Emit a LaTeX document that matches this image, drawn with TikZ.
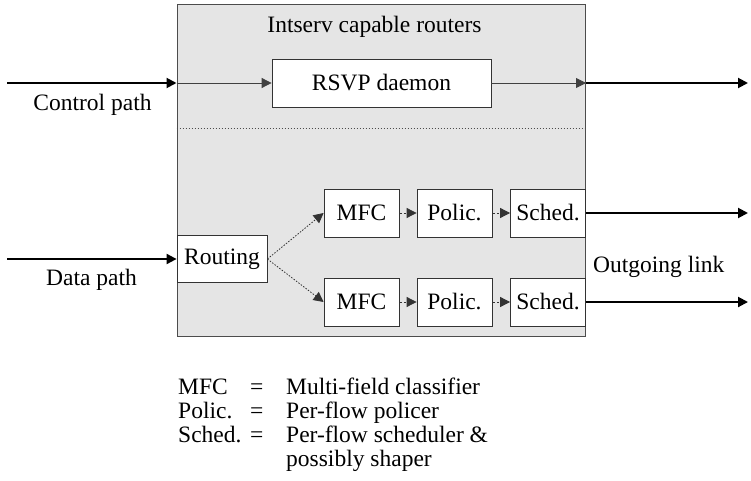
\documentclass[tikz,border=0pt]{standalone}
\usepackage{fontspec}
\setmainfont{Liberation Serif}
\usetikzlibrary{arrows.meta}
\begin{document}
\begin{tikzpicture}[x=1pt,y=1pt,
  font=\fontsize{23.5}{24}\selectfont,
  blk/.style={draw=black!80, line width=0.8pt, fill=white, inner sep=0pt, minimum height=48pt},
  thickarr/.style={line width=2pt, -{Triangle[length=10pt,width=10pt]}},
  thinarr/.style={line width=0.8pt, draw=black!75, -{Triangle[length=10pt,width=10pt]}},
  dotarr/.style={line width=0.8pt, draw=black!80, dash pattern=on 1.5pt off 1.5pt, -{Triangle[length=10pt,width=10pt]}},
  dasharr/.style={line width=0.8pt, draw=black!80, dash pattern=on 2.5pt off 2pt, -{Triangle[length=10pt,width=10pt]}},
  lbl/.style={inner sep=0pt, anchor=base},
  leg/.style={inner sep=0pt, anchor=base west}
]
\useasboundingbox (0,0) rectangle (751,480);

% big box
\node[draw=black!70, line width=1pt, fill=black!10, minimum width=408.5pt, minimum height=331pt, inner sep=0pt] (router) at (381.25,309.5) {};
\node[lbl] (title) at (374.5,447) {Intserv capable routers};

% RSVP
\node[blk, minimum width=219pt] (rsvp) at (381.5,397) {RSVP daemon};
\draw[line width=0.8pt, draw=black!70, dash pattern=on 1.5pt off 1.5pt] (router.west |- 0,352) -- (router.east |- 0,352);

% data path blocks
\node[blk, minimum width=90pt, minimum height=47pt] (routing) at (222,221) {Routing};
\node[blk, minimum width=75pt] (mfc1) at (361.5,267) {MFC};
\node[blk, minimum width=75pt] (pol1) at (454.5,267) {Polic.};
\node[blk, minimum width=75pt] (sch1) at (548,267) {Sched.};
\node[blk, minimum width=75pt] (mfc2) at (361.5,178) {MFC};
\node[blk, minimum width=75pt] (pol2) at (454.5,178) {Polic.};
\node[blk, minimum width=75pt] (sch2) at (548,178) {Sched.};

% free ends
\coordinate (cin) at (7,397);
\coordinate (cout) at (748,397);
\coordinate (din) at (7,221);
\coordinate (o1) at (748,267);
\coordinate (o2) at (748,178);

% control path
\draw[thickarr] (cin) -- (router.west |- cin);
\draw[thinarr] (router.west |- rsvp) -- (rsvp.west);
\draw[thinarr] (rsvp.east) -- (router.east |- rsvp);
\draw[thickarr] (router.east |- cout) -- (cout);
\node[lbl] (cpl) at (92.5,369) {Control path};

% data path
\draw[thickarr] (din) -- (routing.west);
\node[lbl] (dpl) at (91.5,195) {Data path};
\draw[dotarr] (routing.east) -- (mfc1.west);
\draw[dotarr] (routing.east) -- (mfc2.west);
\draw[dasharr] (mfc1) -- (pol1);
\draw[dasharr] (pol1) -- (sch1);
\draw[dasharr] (mfc2) -- (pol2);
\draw[dasharr] (pol2) -- (sch2);
\draw[thickarr] (sch1.east) -- (o1);
\draw[thickarr] (sch2.east) -- (o2);
\node[leg] (olk) at (593,208) {Outgoing link};

% legend
\node[leg] (l1a) at (178,86) {MFC};
\node[leg] (l1b) at (250,86) {=};
\node[leg] (l1c) at (286,86) {Multi-field classifier};
\node[leg] (l2a) at (178,62) {Polic.};
\node[leg] (l2b) at (250,62) {=};
\node[leg] (l2c) at (286,62) {Per-flow policer};
\node[leg] (l3a) at (178,38) {Sched.};
\node[leg] (l3b) at (250,38) {=};
\node[leg] (l3c) at (286,38) {Per-flow scheduler \&};
\node[leg] (l4c) at (286,14) {possibly shaper};
\end{tikzpicture}
\end{document}
